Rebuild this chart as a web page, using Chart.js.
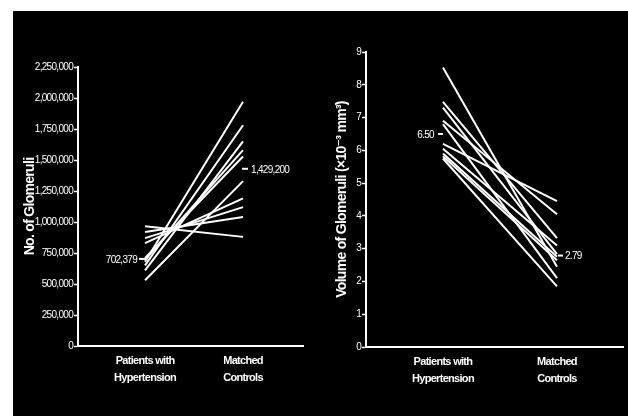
<!DOCTYPE html>
<html>
<head>
<meta charset="utf-8">
<script src="https://cdn.jsdelivr.net/npm/chart.js@4.4.1/dist/chart.umd.min.js"></script>
<style>
  html, body { margin: 0; padding: 0; background: #ffffff; }
  body { width: 628px; height: 416px; position: relative; overflow: hidden; }
  #panel { position: absolute; left: 13px; top: 11px; width: 615px; height: 405px; background: #000; }
  canvas { position: absolute; }
  #c1 { left: 13px; top: 11px; }
  #c2 { left: 315px; top: 11px; }
</style>
</head>
<body>
<div id="panel"></div>
<canvas id="c1" width="300" height="405"></canvas>
<canvas id="c2" width="313" height="405"></canvas>
<script>
// Group labels shown under each x position
const categories = [['Patients with', 'Hypertension'], ['Matched', 'Controls']];

// Number of glomeruli per kidney (one pair per matched subject)
const glomeruliHypertension = [530000, 610000, 650000, 680000, 695000, 710000, 830000, 870000, 920000, 965000];
const glomeruliControls     = [1330000, 1650000, 1780000, 1970000, 1580000, 1528000, 1190000, 1120000, 1040000, 880000];

// Mean glomerular volume (x10^-3 mm^3)
const volumeHypertension = [8.53, 7.48, 7.30, 6.90, 6.80, 6.20, 6.05, 5.90, 5.82, 5.75];
const volumeControls     = [2.45, 3.32, 2.83, 4.05, 2.10, 4.45, 3.10, 2.75, 2.65, 1.85];

// Medians for each group
const glomeruliMedians = [702379, 1429200];
const volumeMedians = [6.50, 2.79];

// Y axis ranges
const glomeruliAxis = { max: 2250000, step: 250000 };
const volumeAxis = { max: 9, step: 1 };

const WHITE = '#ffffff';
const FONT = "'Liberation Sans', 'DejaVu Sans', sans-serif";

function pairDatasets(a, b) {
  return a.map((v, i) => ({
    data: [{ x: 0, y: v }, { x: 1, y: b[i] }],
    borderColor: WHITE,
    borderWidth: 2,
    borderCapStyle: 'butt',
    pointRadius: 0,
    fill: false,
    clip: false
  }));
}

// Tightens the lettering so the labels read as a condensed face
const tightText = {
  id: 'tightText',
  beforeUpdate(chart) { chart.ctx.letterSpacing = '-0.7px'; },
  beforeDraw(chart) { chart.ctx.letterSpacing = '-0.7px'; }
};

// Draws median dashes and their value labels via the chart scales
const medianPlugin = {
  id: 'medianMarks',
  afterDatasetsDraw(chart, args, opts) {
    const { ctx, scales: { x, y } } = chart;
    ctx.save();
    ctx.strokeStyle = WHITE;
    ctx.fillStyle = WHITE;
    ctx.lineWidth = 2;
    ctx.font = "10px " + FONT;
    ctx.textBaseline = 'middle';
    opts.values.forEach((v, i) => {
      const py = y.getPixelForValue(v);
      const px = x.getPixelForValue(i);
      const d = opts.dash[i];
      ctx.beginPath();
      ctx.moveTo(px + d[0], py);
      ctx.lineTo(px + d[1], py);
      ctx.stroke();
      ctx.textAlign = i === 0 ? 'right' : 'left';
      ctx.fillText(opts.format(v), px + d[2], py + 1);
    });
    ctx.restore();
  }
};

function makeChart(id, hyp, ctl, medians, axis, cfg) {
  return new Chart(document.getElementById(id), {
    type: 'line',
    data: { datasets: pairDatasets(hyp, ctl) },
    options: {
      responsive: false,
      animation: false,
      events: [],
      layout: { padding: { left: 0, right: cfg.padRight, top: cfg.padTop, bottom: 0 } },
      plugins: {
        legend: { display: false },
        tooltip: { enabled: false },
        medianMarks: { values: medians, dash: cfg.dash, format: cfg.format }
      },
      scales: {
        x: {
          type: 'linear',
          min: cfg.xMin,
          max: cfg.xMax,
          afterBuildTicks: (s) => { s.ticks = [{ value: 0 }, { value: 1 }]; },
          afterFit: (s) => { s.height = cfg.xHeight; },
          ticks: {
            color: WHITE,
            font: { family: FONT, size: 11, weight: 'bold', lineHeight: 1.5 },
            padding: 7,
            maxRotation: 0,
            autoSkip: false,
            callback: (v) => categories[v]
          },
          grid: { drawOnChartArea: false, drawTicks: false },
          border: { color: WHITE, width: 2 }
        },
        y: {
          min: 0,
          max: axis.max,
          afterFit: (s) => { s.width = cfg.yWidth; },
          ticks: {
            stepSize: axis.step,
            color: WHITE,
            font: { family: FONT, size: 10 },
            padding: 1,
            callback: cfg.tickFormat
          },
          grid: { drawOnChartArea: false, drawTicks: true, tickLength: 4, color: WHITE, tickWidth: 1.5 },
          border: { color: WHITE, width: 2 },
          title: {
            display: true,
            text: cfg.title,
            color: WHITE,
            font: { family: FONT, size: 14, weight: 'bold' },
            padding: { top: cfg.titlePad, bottom: 0 }
          }
        }
      }
    },
    plugins: [tightText, medianPlugin]
  });
}

makeChart('c1', glomeruliHypertension, glomeruliControls, glomeruliMedians, glomeruliAxis, {
  xMin: -0.684, xMax: 1.612, padRight: 10, padTop: 56, xHeight: 70, yWidth: 65, titlePad: 9,
  title: 'No. of Glomeruli',
  dash: [[-6, 0, -8], [-1, 5, 8]],
  format: (v) => v.toLocaleString('en-US'),
  tickFormat: (v) => v.toLocaleString('en-US')
});

makeChart('c2', volumeHypertension, volumeControls, volumeMedians, volumeAxis, {
  xMin: -0.675, xMax: 1.579, padRight: 5, padTop: 41, xHeight: 69, yWidth: 51, titlePad: 19,
  title: 'Volume of Glomeruli (×10⁻³ mm³)',
  dash: [[-5, 0, -9], [1, 6, 8]],
  format: (v) => v.toFixed(2),
  tickFormat: (v) => String(v)
});
</script>
</body>
</html>
